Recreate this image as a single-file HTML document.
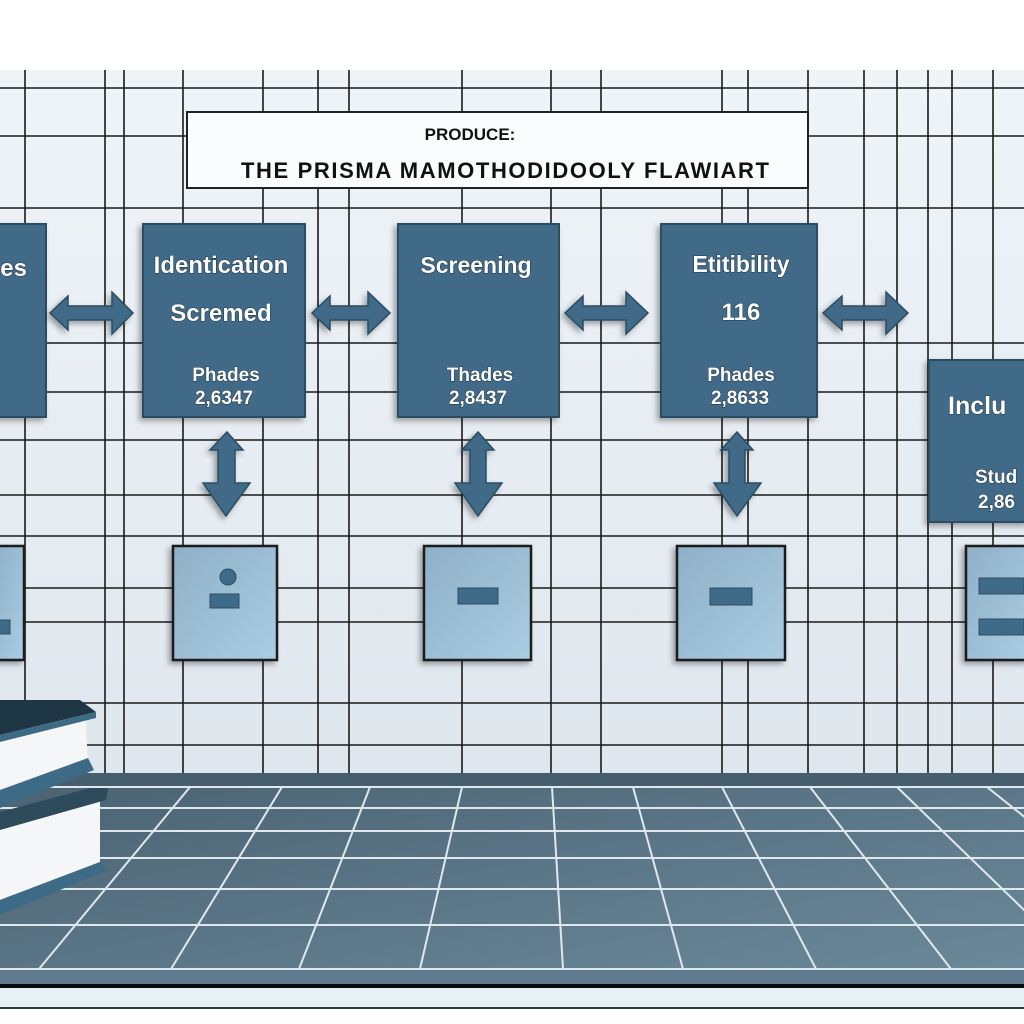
<!DOCTYPE html>
<html><head><meta charset="utf-8"><style>
html,body{margin:0;padding:0;background:#fff;}
svg{display:block}
text{font-family:"Liberation Sans",sans-serif;font-weight:bold}
</style></head><body>
<svg width="1024" height="1024" viewBox="0 0 1024 1024" xmlns="http://www.w3.org/2000/svg">
<defs>
<linearGradient id="wall" x1="0" y1="0" x2="0" y2="1"><stop offset="0" stop-color="#eff4f8"/><stop offset="1" stop-color="#dfe7ee"/></linearGradient>
<linearGradient id="floor" x1="0" y1="0" x2="1" y2="1"><stop offset="0" stop-color="#4a6272"/><stop offset="1" stop-color="#6c8a9b"/></linearGradient>
<linearGradient id="sq" x1="0" y1="0" x2="1" y2="1"><stop offset="0" stop-color="#8fb0c6"/><stop offset="1" stop-color="#a9cde3"/></linearGradient>
<filter id="sh" x="-20%" y="-20%" width="140%" height="140%"><feDropShadow dx="-3" dy="3" stdDeviation="3" flood-color="#000" flood-opacity="0.35"/></filter>
</defs>
<rect width="1024" height="1024" fill="#fff"/>
<rect x="0" y="70" width="1024" height="703" fill="url(#wall)"/>
<g stroke="#1a1a1a" stroke-width="1.6">
<line x1="25" y1="70" x2="25" y2="773"/><line x1="105" y1="70" x2="105" y2="773"/><line x1="124" y1="70" x2="124" y2="773"/><line x1="183" y1="70" x2="183" y2="773"/><line x1="263" y1="70" x2="263" y2="773"/><line x1="318" y1="70" x2="318" y2="773"/><line x1="349" y1="70" x2="349" y2="773"/><line x1="462" y1="70" x2="462" y2="773"/><line x1="551" y1="70" x2="551" y2="773"/><line x1="601" y1="70" x2="601" y2="773"/><line x1="722" y1="70" x2="722" y2="773"/><line x1="748" y1="70" x2="748" y2="773"/><line x1="808" y1="70" x2="808" y2="773"/><line x1="864" y1="70" x2="864" y2="773"/><line x1="897" y1="70" x2="897" y2="773"/><line x1="928" y1="70" x2="928" y2="773"/><line x1="952" y1="70" x2="952" y2="773"/><line x1="993" y1="70" x2="993" y2="773"/>
<line x1="0" y1="88" x2="1024" y2="88"/><line x1="0" y1="136" x2="1024" y2="136"/><line x1="0" y1="208" x2="1024" y2="208"/><line x1="0" y1="343" x2="1024" y2="343"/><line x1="0" y1="392" x2="1024" y2="392"/><line x1="0" y1="440" x2="1024" y2="440"/><line x1="0" y1="495" x2="1024" y2="495"/><line x1="0" y1="536" x2="1024" y2="536"/><line x1="0" y1="588" x2="1024" y2="588"/><line x1="0" y1="622" x2="1024" y2="622"/><line x1="0" y1="703" x2="1024" y2="703"/><line x1="0" y1="745" x2="1024" y2="745"/>
</g>
<!-- title -->
<rect x="187" y="112" width="621" height="76" fill="#fbfcfd" stroke="#222" stroke-width="2"/>
<text x="470" y="140" font-size="17" text-anchor="middle" fill="#111">PRODUCE:</text>
<text x="505" y="178" font-size="22" text-anchor="middle" fill="#111" textLength="528" lengthAdjust="spacing">THE PRISMA MAMOTHODIDOOLY FLAWIART</text>
<!-- boxes -->
<g filter="url(#sh)" fill="#3f6a88" stroke="#2c4d63" stroke-width="2">
<rect x="-5" y="224" width="51" height="193"/>
<rect x="143" y="224" width="162" height="193"/>
<rect x="398" y="224" width="161" height="193"/>
<rect x="661" y="224" width="156" height="193"/>
<rect x="929" y="360" width="100" height="162"/>
</g>
<g fill="#fff" stroke="#1d3445" stroke-width="1" paint-order="stroke">
<text x="27" y="276" font-size="24" text-anchor="end">es</text>
<text x="221" y="273" font-size="24" text-anchor="middle">Identication</text>
<text x="221" y="321" font-size="24" text-anchor="middle">Scremed</text>
<text x="226" y="381" font-size="19" text-anchor="middle">Phades</text>
<text x="224" y="404" font-size="19" text-anchor="middle">2,6347</text>
<text x="476" y="273" font-size="23" text-anchor="middle">Screening</text>
<text x="480" y="381" font-size="19" text-anchor="middle">Thades</text>
<text x="478" y="404" font-size="19" text-anchor="middle">2,8437</text>
<text x="741" y="272" font-size="23" text-anchor="middle">Etitibility</text>
<text x="741" y="320" font-size="24" text-anchor="middle">116</text>
<text x="741" y="381" font-size="19" text-anchor="middle">Phades</text>
<text x="740" y="404" font-size="19" text-anchor="middle">2,8633</text>
<text x="948" y="414" font-size="25">Inclu</text>
<text x="975" y="483" font-size="19">Stud</text>
<text x="978" y="508" font-size="19">2,86</text>
</g>
<!-- arrows -->
<g fill="#3f6a88" stroke="#2c4d63" stroke-width="1.5" filter="url(#sh)">
<path d="M50 313 L68 296 L68 306 L112 306 L112 292 L133 313 L112 334 L112 320 L68 320 L68 330 Z"/>
<path d="M312 313 L330 296 L330 306 L368 306 L368 292 L390 313 L368 334 L368 320 L330 320 L330 330 Z"/>
<path d="M565 313 L583 296 L583 306 L626 306 L626 292 L648 313 L626 334 L626 320 L583 320 L583 330 Z"/>
<path d="M823 313 L842 296 L842 306 L886 306 L886 292 L908 313 L886 334 L886 320 L842 320 L842 330 Z"/>
<path d="M227 432 L243 450 L235 450 L235 483 L250 483 L226 516 L203 483 L218 483 L218 450 L210 450 Z"/>
<path d="M478 432 L494 450 L486 450 L486 483 L502 483 L478 516 L455 483 L470 483 L470 450 L462 450 Z"/>
<path d="M737 432 L753 450 L745 450 L745 483 L761 483 L737 516 L714 483 L729 483 L729 450 L721 450 Z"/>
</g>
<!-- small squares -->
<g fill="url(#sq)" stroke="#1a1a1a" stroke-width="2.5" filter="url(#sh)">
<rect x="-5" y="546" width="29" height="114"/>
<rect x="173" y="546" width="104" height="114"/>
<rect x="424" y="546" width="107" height="114"/>
<rect x="677" y="546" width="108" height="114"/>
<rect x="966" y="546" width="62" height="114"/>
</g>
<g fill="#3f6a88" stroke="#2c4d63" stroke-width="1">
<circle cx="228" cy="577" r="8"/>
<rect x="210" y="594" width="29" height="14"/>
<rect x="458" y="588" width="40" height="16"/>
<rect x="710" y="588" width="42" height="17"/>
<rect x="979" y="578" width="45" height="16"/>
<rect x="979" y="619" width="45" height="16"/>
<rect x="-2" y="620" width="12" height="14"/>
</g>
<!-- floor -->
<rect x="0" y="773" width="1024" height="211" fill="url(#floor)"/>
<rect x="0" y="773" width="1024" height="14" fill="#475e6e"/>
<g stroke="#dfe8ee" stroke-width="2">
<line x1="0" y1="787" x2="1024" y2="787"/><line x1="0" y1="808" x2="1024" y2="808"/><line x1="0" y1="831" x2="1024" y2="831"/><line x1="0" y1="858" x2="1024" y2="858"/><line x1="0" y1="889" x2="1024" y2="889"/><line x1="0" y1="925" x2="1024" y2="925"/><line x1="0" y1="969" x2="1024" y2="969"/>
<line x1="100" y1="787" x2="-95" y2="969"/><line x1="190" y1="787" x2="39" y2="969"/><line x1="282" y1="787" x2="171" y2="969"/><line x1="370" y1="787" x2="299" y2="969"/><line x1="462" y1="787" x2="420" y2="969"/><line x1="552" y1="787" x2="563" y2="969"/><line x1="633" y1="787" x2="683" y2="969"/><line x1="722" y1="787" x2="816" y2="969"/><line x1="810" y1="787" x2="951" y2="969"/><line x1="897" y1="787" x2="1085" y2="969"/><line x1="987" y1="787" x2="1215" y2="969"/>
</g>
<rect x="0" y="970" width="1024" height="14" fill="#5e7a8c"/>
<rect x="0" y="984" width="1024" height="4" fill="#0a0a0a"/>
<rect x="0" y="988" width="1024" height="20" fill="#e6f1f6"/>
<rect x="0" y="1007" width="1024" height="2" fill="#2a3a3a"/>
<!-- books -->
<g>
<path d="M0 815 L90 790 L100 795 L100 862 L0 900 Z" fill="#f4f6f8"/>
<path d="M0 812 L90 788 L108 788 L106 800 L0 830 Z" fill="#2e4b5c"/>
<path d="M0 900 L100 862 L108 870 L0 915 Z" fill="#3d6b85"/>
<path d="M0 725 L85 712 L88 760 L0 790 Z" fill="#f4f6f8"/>
<path d="M0 700 L80 700 L96 712 L0 735 Z" fill="#1f3644"/>
<path d="M0 735 L96 712 L96 718 L0 742 Z" fill="#3d6b85"/>
<path d="M0 790 L88 758 L94 770 L0 808 Z" fill="#3d6b85"/>
</g>
</svg>
</body></html>
